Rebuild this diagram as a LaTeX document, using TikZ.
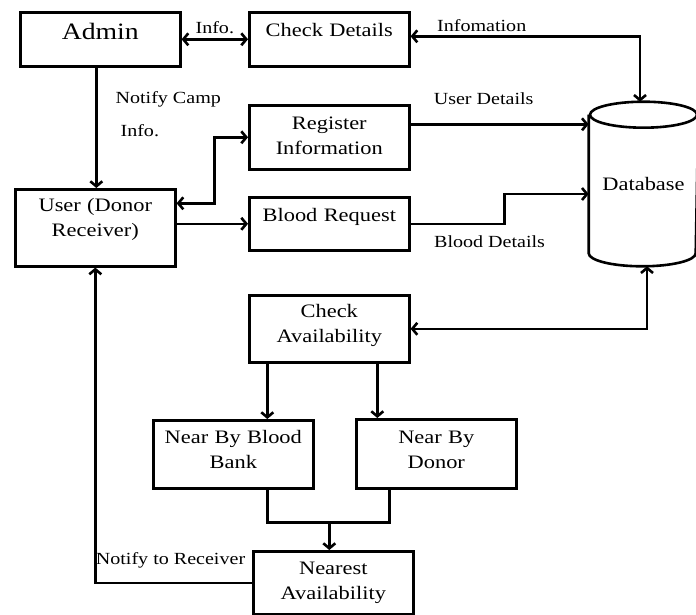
\documentclass[tikz,border=0pt]{standalone}
\usepackage{fontspec}
\setmainfont{Liberation Serif}[FakeStretch=1.18]
\usetikzlibrary{arrows.meta}

\begin{document}
\begin{tikzpicture}[x=1pt, y=-1pt, line width=2.6pt,
  >={Straight Barb[length=5pt,width=12pt]},
  box/.style={draw, anchor=north west, text width=150pt, align=center,
    inner xsep=5pt, inner ysep=0pt, text height=24pt,
    font=\fontsize{19}{25}\selectfont},
  lbl/.style={inner sep=1pt, font=\fontsize{17}{20}\selectfont}
]
    \useasboundingbox (0,0) rectangle (696,615);
    \node[box, text height=27pt, text depth=27pt, font=\fontsize{23.5}{25}\selectfont] (admin) at (19,11) {Admin};
    \node[box, text depth=30pt] (check) at (248,11) {Check Details};
    \node[box, text depth=40pt] (reg) at (248,104) {Register\\Information};
    \node[box, text depth=29pt] (blood) at (248,196) {Blood Request};
    \node[box, text height=22pt, text depth=55pt] (user) at (14,188) {User (Donor\\Receiver)};
    \node[box, text height=22pt, text depth=45pt] (avail) at (248,294) {Check\\Availability};
    \node[box, text height=23pt, text depth=45pt] (bank) at (152,419) {Near By Blood\\Bank};
    \node[box, text depth=45pt] (donor) at (355,418) {Near By\\Donor};
    \node[box, text height=23pt, text depth=40pt] (nearest) at (252,550) {Nearest\\Availability};
    \node[minimum width=107pt, minimum height=162pt, inner sep=0pt,
      font=\fontsize{19}{25}\selectfont] (db) at (643.5,184) {Database};
    % cylinder round the database
    \draw ([yshift=-13pt]db.north west) -- ([yshift=13pt]db.south west)
      arc[start angle=180, end angle=360, x radius=53.5pt, y radius=13pt]
      -- ([yshift=-13pt]db.north east);
    \draw ([yshift=-13pt]db.north) ellipse [x radius=53.5pt, y radius=13pt];

    \draw[<->] (admin) -- node[lbl, above=3pt] {Info.} (check);
    \draw[<->] ([yshift=3pt]check.east) coordinate (checkout)
      -| ([xshift=-3.5pt]db.north) node[lbl, pos=.155, above=2pt] {Infomation};
    \draw[->] ([xshift=-4pt]admin.south) coordinate (adminout)
      -- node[lbl, pos=.39, right=17pt, align=left] {Notify Camp\\[13pt]\hspace*{5pt}Info.} (adminout |- user.north);
    \draw[<->] ([yshift=24.5pt]user.east) -- ++(38,0) |- (reg.west);
    \draw[->] (user.east |- blood.west) -- (blood.west);
    \draw[->] ([yshift=13pt]reg.east) coordinate (regout)
      -- node[lbl, pos=.41, above=17pt] {User Details} (regout -| db.west);
    \draw[->] (blood.east) -- node[lbl, pos=.84, below=10pt] {Blood Details} ++(94,0)
      |- ([yshift=-10pt]db.west);
    \draw[<->] ([xshift=3.5pt]db.south) |- (avail.east);
    \draw[->] ([xshift=-62pt]avail.south) coordinate (availl) -- (availl |- bank.north);
    \draw[->] ([xshift=48pt]avail.south) coordinate (availr) -- (availr |- donor.north);
    \draw ([xshift=34pt]bank.south) -- ++(0,33) coordinate (join) -| ([xshift=-47pt]donor.south);
    \draw[->] ([xshift=-4pt]join -| nearest.north) -- ([xshift=-4pt]nearest.north);
    \draw[->] (nearest.west) -| node[lbl, pos=.26, above=12pt] {Notify to Receiver} (user.south);
\end{tikzpicture}
\end{document}
